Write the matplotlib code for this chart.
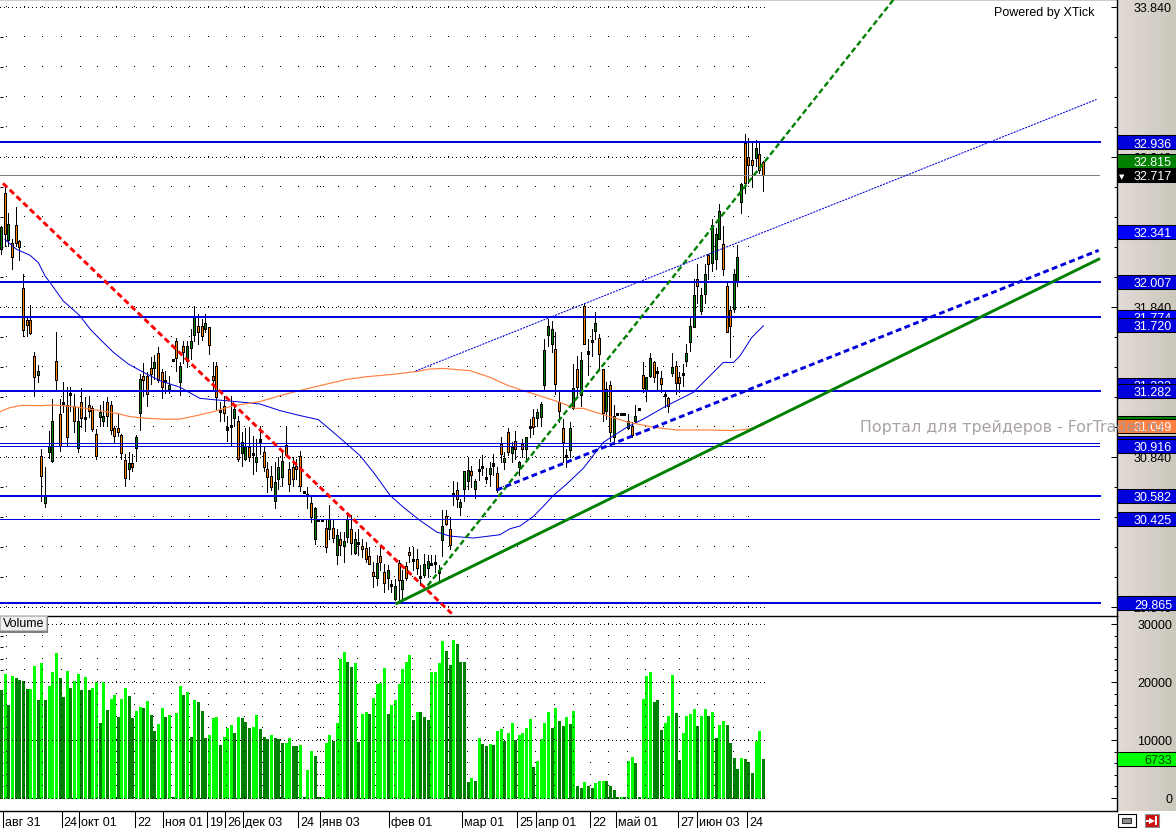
import numpy as np
import matplotlib
matplotlib.use("Agg")
import matplotlib.pyplot as plt
from matplotlib.patches import Rectangle

plt.rcParams["font.family"] = ["Liberation Sans", "DejaVu Sans"]

# daily bars, one value per bar
highs = [32.379,32.656,32.463,32.290,32.505,32.284,32.058,31.781,31.851,31.541,
         31.452,30.894,30.772,31.013,31.226,31.670,31.226,31.337,31.304,31.304,
         31.260,31.171,31.297,31.237,31.244,31.182,31.027,31.186,31.215,31.237,
         31.215,31.049,31.127,30.993,30.860,30.872,30.860,30.987,31.393,31.463,
         31.404,31.503,31.519,31.570,31.426,31.415,31.381,31.488,31.636,31.470,
         31.614,31.614,31.692,31.847,31.792,31.758,31.792,31.703,31.470,31.470,
         31.204,31.248,31.115,31.248,31.182,31.115,31.005,31.031,31.038,30.982,
         30.960,31.049,30.916,30.805,30.783,30.805,30.839,30.883,31.047,30.805,
         30.839,30.828,30.879,30.610,30.639,30.584,30.506,30.422,30.422,30.428,
         30.522,30.428,30.362,30.340,30.340,30.451,30.451,30.340,30.362,30.295,
         30.273,30.240,30.140,30.189,30.240,30.129,30.118,30.018,30.029,30.151,
         30.085,30.140,30.240,30.240,30.229,30.118,30.196,30.184,30.184,30.184,
         30.118,30.484,30.488,30.439,30.677,30.672,30.561,30.746,30.839,30.783,
         30.694,30.828,30.850,30.765,30.805,30.861,30.772,30.972,30.872,31.032,
         30.939,31.016,30.812,30.960,30.971,31.093,31.160,31.160,31.204,31.625,
         31.758,31.747,31.670,31.282,31.093,30.894,31.071,31.459,31.514,31.537,
         31.869,31.625,31.692,31.803,31.659,31.426,31.337,31.348,31.186,31.131,
         31.131,31.131,31.126,31.071,31.186,31.164,31.470,31.370,31.532,31.481,
         31.437,31.415,31.271,31.237,31.532,31.481,31.404,31.459,31.592,31.780,
         32.024,32.124,31.969,32.124,32.191,32.423,32.368,32.523,32.379,32.002,
         31.847,32.091,32.250,32.667,32.989,32.962,32.933,32.951,32.933,32.811]
lows = [32.191,32.246,32.246,32.091,32.246,32.153,31.647,31.647,31.659,31.248,
        31.337,30.550,30.510,30.836,30.805,31.288,30.883,31.138,30.920,31.149,
        31.005,30.872,31.038,31.016,31.104,31.016,30.827,31.044,31.049,31.049,
        30.993,30.942,30.982,30.827,30.650,30.694,30.750,30.816,31.022,31.248,
        31.178,31.326,31.359,31.337,31.231,31.266,31.266,31.484,31.415,31.253,
        31.463,31.437,31.492,31.614,31.592,31.621,31.670,31.526,31.282,31.160,
        31.082,31.082,30.949,30.916,31.049,30.816,30.783,30.823,30.816,30.727,
        30.750,30.861,30.750,30.606,30.617,30.502,30.628,30.650,30.850,30.611,
        30.650,30.694,30.611,30.604,30.502,30.406,30.258,30.417,30.417,30.207,
        30.295,30.273,30.129,30.184,30.140,30.273,30.196,30.196,30.184,30.173,
        30.140,30.129,29.974,29.985,30.085,29.941,29.963,29.941,29.885,29.885,
        29.897,30.018,30.140,30.085,30.063,29.985,30.041,30.041,30.118,30.074,
        30.007,30.178,30.384,30.229,30.517,30.506,30.451,30.544,30.628,30.639,
        30.568,30.684,30.717,30.666,30.650,30.717,30.606,30.805,30.761,30.850,
        30.805,30.828,30.717,30.838,30.827,30.971,30.993,31.049,31.049,31.293,
        31.581,31.537,31.259,31.071,30.805,30.772,30.838,31.160,31.248,31.182,
        31.592,31.388,31.514,31.625,31.426,31.082,31.093,30.949,30.927,31.127,
        31.127,31.127,31.027,30.971,31.071,31.160,31.271,31.215,31.370,31.337,
        31.293,31.271,31.171,31.142,31.381,31.259,31.271,31.315,31.448,31.548,
        31.703,31.869,31.792,31.869,32.024,32.080,32.091,32.290,32.053,31.670,
        31.503,31.803,31.980,32.468,32.601,32.667,32.641,32.778,32.734,32.612]
opens = [32.228,32.596,32.284,32.268,32.384,32.279,31.969,31.752,31.752,31.512,
         31.388,30.845,30.535,30.872,30.816,31.477,31.124,31.204,31.186,31.266,
         31.178,30.898,31.204,31.102,31.184,31.164,30.993,31.109,31.078,31.204,
         31.186,31.031,31.031,30.985,30.818,30.758,30.801,30.898,31.131,31.377,
         31.377,31.430,31.430,31.530,31.404,31.350,31.293,31.488,31.610,31.337,
         31.577,31.481,31.568,31.656,31.710,31.716,31.692,31.703,31.377,31.444,
         31.155,31.182,31.038,31.049,31.098,31.078,30.865,30.827,30.905,30.865,
         30.805,30.960,30.872,30.759,30.712,30.550,30.694,30.705,30.918,30.759,
         30.774,30.783,30.845,30.610,30.595,30.535,30.291,30.422,30.422,30.369,
         30.357,30.366,30.187,30.295,30.244,30.304,30.362,30.198,30.273,30.249,
         30.233,30.182,30.074,30.034,30.182,30.074,30.034,29.992,29.897,30.134,
         29.958,30.114,30.207,30.160,30.160,30.047,30.056,30.100,30.118,30.134,
         30.067,30.284,30.446,30.360,30.599,30.619,30.506,30.626,30.677,30.746,
         30.624,30.759,30.779,30.701,30.730,30.799,30.732,30.925,30.805,31.005,
         30.866,30.945,30.772,30.927,30.894,31.044,31.104,31.102,31.109,31.319,
         31.654,31.594,31.557,31.204,31.033,30.849,30.889,31.166,31.426,31.253,
         31.847,31.543,31.616,31.681,31.632,31.426,31.149,31.319,30.971,31.131,
         31.131,31.131,31.031,31.044,31.082,31.164,31.388,31.286,31.377,31.470,
         31.410,31.364,31.255,31.231,31.399,31.448,31.370,31.397,31.481,31.603,
         31.707,32.024,31.816,31.927,32.186,32.133,32.162,32.290,32.262,31.976,
         31.818,31.823,32.009,32.541,32.929,32.840,32.816,32.834,32.860,32.803]
closes = [32.375,32.328,32.390,32.173,32.264,32.239,31.687,31.721,31.665,31.375,
          31.412,30.716,30.579,30.916,31.078,31.355,30.916,31.200,30.976,31.255,
          31.082,31.078,31.098,31.095,31.149,31.027,30.849,31.138,31.111,31.115,
          31.022,30.982,31.005,30.865,30.699,30.798,30.776,30.971,31.359,31.355,
          31.257,31.393,31.470,31.355,31.308,31.344,31.317,31.484,31.497,31.444,
          31.541,31.581,31.616,31.781,31.676,31.647,31.734,31.588,31.350,31.237,
          31.144,31.131,31.020,31.045,31.160,30.827,30.942,30.916,30.838,30.860,
          30.838,30.943,30.776,30.705,30.643,30.672,30.772,30.812,30.850,30.657,
          30.694,30.761,30.650,30.604,30.584,30.438,30.499,30.417,30.417,30.242,
          30.428,30.298,30.320,30.251,30.280,30.428,30.267,30.295,30.267,30.225,
          30.162,30.129,30.045,30.134,30.140,30.001,30.089,29.985,29.983,30.018,
          30.020,30.034,30.184,30.145,30.100,30.034,30.127,30.147,30.134,30.127,
          30.085,30.380,30.391,30.253,30.592,30.557,30.539,30.746,30.752,30.719,
          30.679,30.752,30.774,30.697,30.765,30.783,30.617,30.859,30.832,30.872,
          30.905,30.890,30.805,30.894,30.971,31.040,31.038,31.140,31.195,31.552,
          31.716,31.690,31.328,31.149,30.938,30.845,31.033,31.297,31.308,31.486,
          31.592,31.528,31.612,31.736,31.528,31.131,31.291,31.009,31.111,31.127,
          31.127,31.127,31.078,30.987,31.111,31.160,31.299,31.370,31.501,31.370,
          31.404,31.326,31.248,31.182,31.437,31.330,31.333,31.390,31.530,31.710,
          31.922,31.980,31.916,32.060,32.129,32.388,32.328,32.481,32.095,31.670,
          31.716,32.058,32.175,32.661,32.667,32.787,32.787,32.896,32.752,32.717]
volumes = [18621,21379,16034,21034,20690,20345,20172,18793,18793,22759,
           16897,23276,16897,19310,21724,25000,20690,17414,21897,18966,
           20172,21379,18621,20862,18621,18966,20000,12931,20000,15172,
           17069,17759,13966,17069,18966,17586,13793,15000,15690,15517,
           16724,14310,11552,12759,15517,13966,14310,115,14655,19310,
           17759,18276,10517,16897,16552,15000,10345,10862,13793,13966,
           9138,10517,12069,12586,11207,13966,13793,13103,12069,12241,
           14310,11897,
           10517,10172,10862,10345,10172,9483,9483,10345,8966,8966,
           9138,115,4828,8103,7241,115,115,9483,10862,9828,
           12931,23966,25172,23448,22586,23276,9655,14483,14828,14483,
           17241,19655,19828,22414,14483,16034,16897,19655,22241,23448,
           24655,13448,14828,14828,13966,13448,21724,21724,23276,27069,
           25345,22931,27241,26552,23448,23448,2759,3448,2931,10345,
           9310,8966,9310,9138,11552,11897,9828,11207,12931,10000,10862,
           11207,12069,13621,5345,6379,10172,12931,14828,12069,15517,
           13276,12414,13966,12759,15000,2069,1724,2759,2069,1724,
           2586,2931,2931,2931,2069,1379,172,172,172,6379,
           7069,6034,172,17069,21034,21724,16552,16897,11724,12931,
           14138,21207,14655,6552,11207,14138,14483,15345,12414,14138,
           15345,14138,14828,10345,12586,13276,12586,9483,6897,5000,
           6897,6724,6207,4310,9828,11552,6733]
# 1 = bright green volume bar, 0 = dark green
vol_bright = [0,1,0,1,0,0,0,0,1,1,0,1,0,1,1,1,0,0,1,0,1,1,0,1,0,1,1,0,1,0,
              1,1,0,1,1,0,0,1,1,0,1,0,0,1,1,0,1,0,1,1,0,1,0,1,0,0,0,1,1,1,
              0,1,1,1,0,1,0,0,0,1,1,0,
              0,0,1,0,0,0,1,1,0,0,1,0,1,1,0,0,1,1,1,0,1,1,1,0,0,1,0,1,1,0,
              1,1,1,1,0,1,1,1,1,1,1,0,1,0,0,0,1,1,1,1,0,0,1,0,0,0,0,1,0,1,
              0,0,1,0,1,1,0,1,1,0,1,
              1,1,1,0,1,1,1,1,0,1,0,0,1,0,1,0,0,1,0,0,1,1,1,0,0,0,0,1,0,1,
              1,0,0,1,1,1,0,0,0,1,1,1,0,0,1,1,1,1,0,1,1,0,1,0,1,1,0,0,0,0,
              1,0,0,0,1,1,0]

# moving averages, read as polylines (bar number, price)
ma_blue_x = [1.0,4.2,7.9,10.2,12.0,13.4,17.0,21.6,24.4,27.1,30.8,34.9,39.9,43.6,49.1,54.5,58.2,61.9,71.0,
             76.5,82.0,87.0,91.1,94.8,98.4,102.1,106.7,110.3,114.9,119.5,123.1,129.5,136.8,139.6,142.3,
             145.9,148.6,151.4,155.2,159.7,165.2,171.6,176.2,182.6,189.9,198.1,200.9,202.7,205.9,209.1]
ma_blue_y = [32.290,32.224,32.184,32.135,32.047,32.002,31.880,31.781,31.692,31.625,31.537,31.459,31.393,31.348,31.304,31.231,31.222,31.215,31.193,
             31.149,31.116,31.089,31.005,30.927,30.850,30.739,30.584,30.506,30.417,30.340,30.313,30.300,30.322,30.362,30.380,
             30.442,30.508,30.582,30.661,30.765,30.938,31.038,31.093,31.182,31.271,31.470,31.470,31.514,31.636,31.714]
ma_orange_x = [-0.3,2.4,5.6,10.6,15.2,20.7,27.1,31.7,35.3,39.9,45.4,49.1,52.7,58.2,63.7,71.0,
               76.5,82.9,89.3,94.8,100.3,107.6,114.0,117.6,121.3,128.6,134.1,138.7,142.3,
               147.8,153.3,157.4,159.7,165.2,171.6,178.9,185.3,194.5,200.9,205.5,209.1]
ma_orange_y = [31.142,31.169,31.184,31.182,31.186,31.173,31.149,31.131,31.109,31.098,31.091,31.093,31.111,31.142,31.182,31.209,
               31.249,31.289,31.326,31.357,31.375,31.391,31.410,31.426,31.430,31.415,31.371,31.320,31.289,
               31.248,31.204,31.164,31.164,31.122,31.075,31.038,31.020,31.020,31.016,31.027,31.053]

# trend lines (bar number, price)
red_x, red_y = [0.5, 123.6], [32.663, 29.797]
green_dash_x, green_dash_y = [117.0, 244.8], [29.983, 33.887]
green_x, green_y = [108.5, 301.1], [29.865, 32.158]
blue_dash_x, blue_dash_y = [136.0, 301.1], [30.621, 32.217]
blue_thin_x, blue_thin_y = [113.7, 300.5], [31.413, 33.222]

# horizontal levels
thick_levels = [32.936, 32.007, 31.774, 31.282, 30.582, 29.865]
thin_levels = [30.932, 30.916, 30.425]
last_price = 32.717

# labels on the price scale, drawn in this order
tag_prices = [32.936, 32.815, 32.717, 32.341, 32.007, 31.774, 31.720, 31.323, 31.282,
              31.069, 31.049, 30.932, 30.916, 30.582, 30.425, 29.865]
tag_colors = ["#0000DC", "#008000", "#000000", "#0000FF", "#0000DC", "#0000FF", "#0000DC", "#0000DC", "#0000DC",
              "#008000", "#FF8040", "#0000DC", "#0000DC", "#0000DC", "#0000DC", "#0000DC"]
scale_prices = [33.84, 32.84, 31.84, 30.84, 29.84]

tick_bars = [0.5,16.6,21.4,36.7,44.5,56.5,61.5,66.4,81.5,87.5,106.5,126.5,141.5,146.7,161.5,168.7,185.8,190.8,204.7]
tick_labels = ["авг 31","24","окт 01","22","ноя 01","19","26","дек 03","24","янв 03",
               "фев 01","мар 01","25","апр 01","22","май 01","27","июн 03","24"]
dot_bars = [1.3,6.3,11.3,16.4,21.5,26.4,31.4,36.5,41.6,46.6,51.5,56.6,61.6,66.5,71.5,76.5,81.5,86.6,87.4,88.4,
            92.4,97.5,102.6,107.7,112.7,117.6,122.7,127.7,132.7,137.7,141.5,146.5,151.6,156.9,161.6,166.5,
            171.6,176.7,181.7,186.0,191.0,195.6,200.7,205.0]

W, H = 1176, 829
BAR_PX = 3.645
BAR_X0 = 1.2
AXIS_PX = 1117
PRICE_PX = 150.1
BLACK_DOTS = (0, (1, 3))


def bar_at(px):
    return (px - BAR_X0) / BAR_PX


fig = plt.figure(figsize=(W / 100, H / 100), dpi=100)

# background with the beige scale strip and the small icons
ax_bg = fig.add_axes([0, 0, 1, 1], zorder=0)
strip = np.linspace(0, 1, 58).reshape(1, -1)
ax_bg.imshow(strip, extent=(1118, 1176, 812, 0), aspect="auto", zorder=1,
             cmap=matplotlib.colors.LinearSegmentedColormap.from_list("s", ["#E2DAD6", "#CBC8BC"]))
ax_bg.add_patch(Rectangle((1117.5, 814.5), 18, 13.5, fc="white", ec="black", lw=0.8))
ax_bg.add_patch(Rectangle((1122, 819), 9, 4.5, fc="#909090", ec="#303030", lw=0.8))
ax_bg.add_patch(Rectangle((1145, 815), 14, 13, fc="#C81010", ec="#909090", lw=0.8))
ax_bg.plot([1147, 1152], [821.5, 821.5], color="white", lw=1.4)
ax_bg.plot([1152], [821.5], marker=">", ms=4.5, color="white", mew=0)
ax_bg.plot([1156, 1156], [818, 825], color="white", lw=1.4)
ax_bg.set_xlim(0, W)
ax_bg.set_ylim(H, 0)
ax_bg.axis("off")

# price pane and volume pane
ax = fig.add_axes([0, (H - 617) / H, AXIS_PX / W, 617 / H], zorder=2)
ax.set_facecolor("white")
ax_vol = fig.add_axes([0, (H - 812) / H, AXIS_PX / W, 195 / H], zorder=2)
ax_vol.set_facecolor("white")

idx = np.arange(len(closes))
o, c, hi, lo = map(np.array, (opens, closes, highs, lows))
body_colors = np.where(c > o, "#008000", "#FF8000")

# dotted grid
grid_prices = 33.84 - 0.2 * np.arange(21)
gx, gy = np.meshgrid(dot_bars, grid_prices)
ax.plot(gx.ravel(), gy.ravel(), ",", color="black", zorder=1)
for p in scale_prices:
    ax.plot([-0.3, 209.5], [p, p], color="black", lw=0.72, ls=BLACK_DOTS, antialiased=False, zorder=1)

# candles: wick, black body, coloured core
px = 1 / PRICE_PX
mid = (o + c) / 2
half = np.maximum(np.abs(c - o) / 2, px)
ax.vlines(idx, lo, hi, color="black", lw=0.7, antialiased=False, zorder=2)
ax.vlines(idx, mid - half, mid + half, color="black", lw=2.0, antialiased=False, zorder=3)
tall = half > 1.5 * px
ax.vlines(idx[tall], (mid - half + px)[tall], (mid + half - px)[tall], colors=body_colors[tall], lw=0.7,
          antialiased=False, zorder=3.5)

# moving averages
ax.plot(ma_blue_x, ma_blue_y, color="#0000DC", lw=0.72, zorder=4)
ax.plot(ma_orange_x, ma_orange_y, color="#FF8040", lw=0.85, zorder=4)

# levels
for p in thick_levels:
    ax.plot([-0.3, bar_at(1100)], [p, p], color="#0000DC", lw=1.44, zorder=5)
for p in thin_levels:
    ax.plot([-0.3, bar_at(1099)], [p, p], color="#0000DC", lw=0.72, zorder=5)
ax.plot([-0.3, bar_at(1099)], [last_price, last_price], color="#808080", lw=0.72, zorder=5)

# trend lines
ax.plot(red_x, red_y, color="#FF0000", lw=2.1, ls=(0, (2, 1.2)), zorder=6)
ax.plot(green_x, green_y, color="#008000", lw=2.1, zorder=6)
ax.plot(green_dash_x, green_dash_y, color="#008000", lw=1.7, ls=(0, (2.4, 1.3)), zorder=6)
ax.plot(blue_dash_x, blue_dash_y, color="#0000DC", lw=2.1, ls=(0, (2, 1.2)), zorder=6)
ax.plot(blue_thin_x, blue_thin_y, color="#0000DC", lw=0.75, ls=(0, (2, 1)), zorder=6)

ax.set_xlim(bar_at(0), bar_at(AXIS_PX))
ax.set_ylim(33.84 - 609.3 / PRICE_PX, 33.84 + 7.7 / PRICE_PX)
ax.set_xticks([])
ax.set_yticks(scale_prices, minor=False)
ax.set_yticks(grid_prices, minor=True)
ax.set_yticklabels([])
ax.tick_params(axis="y", which="major", direction="in", length=4.3, width=0.72, left=False, right=True)
ax.tick_params(axis="y", which="minor", direction="in", length=2.2, width=0.72, left=True, right=True)
for s in ("left", "bottom"):
    ax.spines[s].set_visible(False)
for s in ("top", "right"):
    ax.spines[s].set_linewidth(1.0)

# price scale texts
TAG_H = 14 / PRICE_PX
tr = ax.get_yaxis_transform()
text_x = 1172 / AXIS_PX
text_dy = 1.2 / PRICE_PX
for p in scale_prices:
    ax.text(text_x, p - text_dy, "%.3f" % p, transform=tr, ha="right", va="center", fontsize=9, color="black",
            clip_on=False, zorder=8)
for n, (p, col) in enumerate(zip(tag_prices, tag_colors)):
    ax.add_patch(Rectangle((1.0, p - TAG_H / 2), 59 / AXIS_PX, TAG_H, transform=tr, fc=col, ec="black", lw=0.75,
                           clip_on=False, zorder=9 + n * 0.1))
    ax.text(text_x, p - text_dy, "%.3f" % p, transform=tr, ha="right", va="center", fontsize=9, color="white",
            clip_on=False, zorder=9.05 + n * 0.1)
ax.text(1122 / AXIS_PX, last_price - text_dy, "▼", transform=tr, ha="center", va="center", fontsize=5, color="white",
        family="DejaVu Sans", clip_on=False, zorder=12)
ax.text(1094 / AXIS_PX, 33.84 - 5.5 / PRICE_PX, "Powered by XTick", transform=tr, ha="right", va="center",
        fontsize=9, color="black", zorder=8)

# watermark over the chart and the scale
ax.text(860 / AXIS_PX, 31.049 - text_dy, "Портал для трейдеров - ForTrader.ru", transform=tr, fontsize=11.4,
        color="#A09898", alpha=0.9, family="DejaVu Sans", ha="left", va="center", clip_on=False, zorder=20)

# volume pane
vol_colors = ["#00FF00" if b else "#008000" for b in vol_bright]
ax_vol.vlines(idx, 0, volumes, colors=vol_colors, lw=1.8, antialiased=False, zorder=2)
vol_grid = 2000 * np.arange(16)
gx, gy = np.meshgrid(dot_bars, vol_grid)
ax_vol.plot(gx.ravel(), gy.ravel(), ",", color="black", zorder=3)
for v in (0, 10000, 20000, 30000):
    ax_vol.plot([-0.3, 209.5], [v, v], color="black", lw=0.72, ls=BLACK_DOTS, antialiased=False, zorder=3)
ax_vol.set_xlim(bar_at(0), bar_at(AXIS_PX))
ax_vol.set_ylim((799 - 812) / 5.8 * 1000, (799 - 617) / 5.8 * 1000)
ax_vol.set_yticks([0, 10000, 20000, 30000])
ax_vol.set_yticks(vol_grid, minor=True)
ax_vol.set_yticklabels([])
ax_vol.tick_params(axis="y", which="major", direction="in", length=4.3, width=0.72, left=False, right=True)
ax_vol.tick_params(axis="y", which="minor", direction="in", length=2.2, width=0.72, left=True, right=True)
ax_vol.set_xticks(tick_bars)
ax_vol.set_xticklabels([])
ax_vol.tick_params(axis="x", which="major", direction="out", length=12.3, width=0.75)
ax_vol.spines["left"].set_visible(False)
ax_vol.spines["top"].set_linewidth(1.0)
ax_vol.spines["right"].set_linewidth(1.0)
ax_vol.spines["bottom"].set_linewidth(1.0)

tr_v = ax_vol.get_yaxis_transform()
v_dy = 1.5 / 5.8 * 1000
for v in (0, 10000, 20000, 30000):
    ax_vol.text(text_x, v - v_dy, str(v), transform=tr_v, ha="right", va="center", fontsize=9, color="black",
                clip_on=False, zorder=8)
v_tag = 14 / 5.8 * 1000
ax_vol.add_patch(Rectangle((1.0, volumes[-1] - v_tag / 2), 59 / AXIS_PX, v_tag, transform=tr_v, fc="#00FF00",
                           ec="black", lw=0.75, clip_on=False, zorder=9))
ax_vol.text(text_x, volumes[-1] - v_dy, str(volumes[-1]), transform=tr_v, ha="right", va="center", fontsize=9,
            color="#004000", clip_on=False, zorder=10)

# date labels, to the right of each separator
xtr = ax_vol.get_xaxis_transform()
for b, t in zip(tick_bars, tick_labels):
    ax_vol.annotate(t, (b, 0), xycoords=xtr, xytext=(2, -11), textcoords="offset pixels", ha="left", va="center",
                    fontsize=9, color="black", annotation_clip=False)

# Volume caption with its little bevel
ax_vol.add_patch(Rectangle((0, 0.915), 48 / AXIS_PX, 0.085, transform=ax_vol.transAxes, fc="#808080", lw=0, zorder=7))
ax_vol.add_patch(Rectangle((0, 0.93), 46 / AXIS_PX, 0.07, transform=ax_vol.transAxes, fc="#F0F0F0", ec="#C0C0C0",
                           lw=0.5, zorder=8))
ax_vol.text(3 / AXIS_PX, 0.963, "Volume", transform=ax_vol.transAxes, ha="left", va="center", fontsize=9, zorder=9)

fig.savefig("out.png", dpi=100)
